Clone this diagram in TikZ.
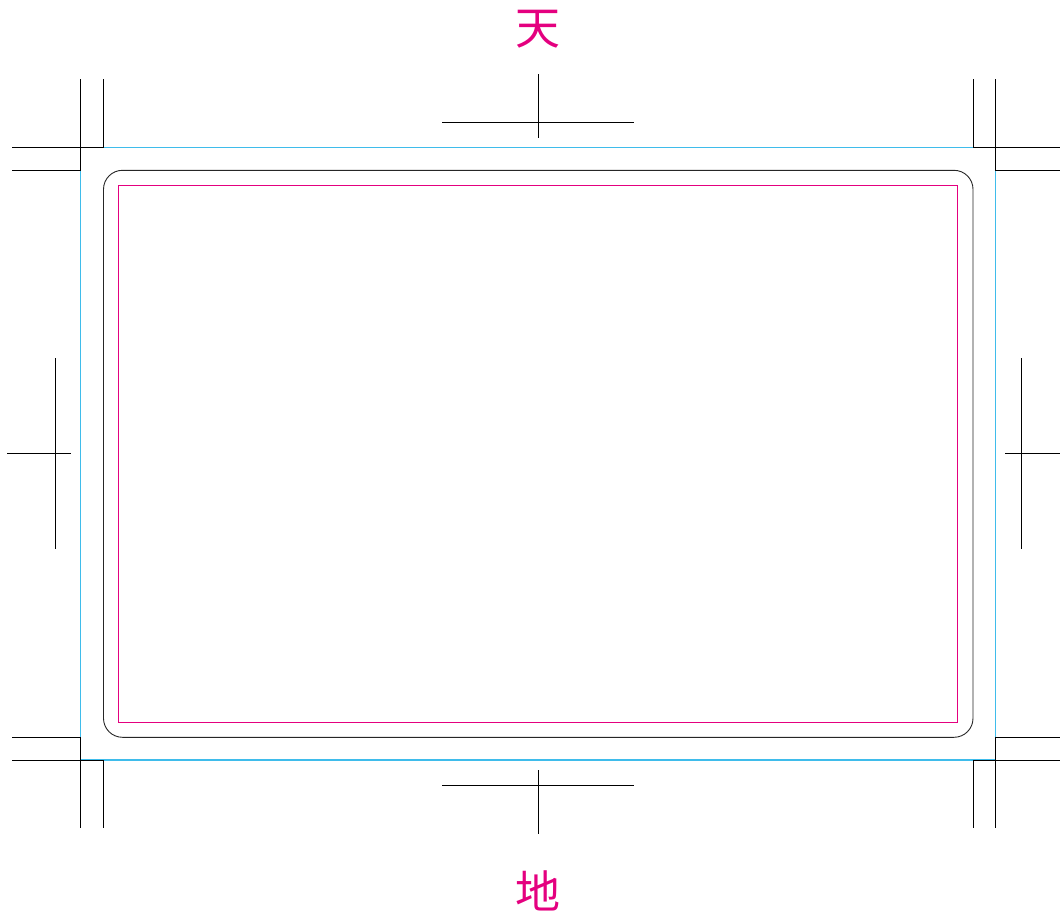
\documentclass[tikz,border=0pt]{standalone}
\usepackage{fontspec}
\newfontfamily\cjk{Noto Sans CJK JP}
\definecolor{bleedblue}{HTML}{3FBCEB}
\definecolor{safemag}{HTML}{E4007F}
\begin{document}
\begin{tikzpicture}[x=1pt,y=-1pt,
  cropline/.style={draw=black,line width=0.9pt},
  bleedline/.style={draw=bleedblue,line width=1.3pt},
  trimline/.style={draw=black!85,line width=0.9pt},
  safeline/.style={draw=safemag,line width=0.9pt},
  label/.style={text=safemag,font=\cjk\fontsize{45}{45}\selectfont,inner sep=0pt}]
\useasboundingbox (0,0) rectangle (1060,913);
% bleed rectangle
\draw[bleedline] (80.7,147.6) rectangle (995.6,760);
% trim (rounded) rectangle
\draw[trimline,rounded corners=19pt] (103.5,170.3) rectangle (973,737.3);
% safe area
\draw[safeline] (118.6,185.4) rectangle (957.8,722.2);
% corner crop marks: top-left
\draw[cropline] (12,147.6) -- (103.2,147.6) -- (103.2,79);
\draw[cropline] (12,170.3) -- (80.7,170.3) -- (80.7,79);
% top-right
\draw[cropline] (1064,147.6) -- (973,147.6) -- (973,79);
\draw[cropline] (1064,170.3) -- (995.6,170.3) -- (995.6,79);
% bottom-left
\draw[cropline] (12,760) -- (103.2,760) -- (103.2,828);
\draw[cropline] (12,737.5) -- (80.7,737.5) -- (80.7,828);
% bottom-right
\draw[cropline] (1064,760) -- (973,760) -- (973,828);
\draw[cropline] (1064,737.5) -- (995.6,737.5) -- (995.6,828);
% center marks
\draw[cropline] (442,122) -- (634,122) (538,74) -- (538,137.7);
\draw[cropline] (442,785.4) -- (634,785.4) (538,770) -- (538,833.5);
\draw[cropline] (7,453.7) -- (71,453.7) (55.3,358) -- (55.3,549);
\draw[cropline] (1005,453.7) -- (1069,453.7) (1021,358) -- (1021,549);
% labels
\node[label] (ten) at (538,29) {天};
\node[label] (chi) at (538,891) {地};
\end{tikzpicture}
\end{document}
